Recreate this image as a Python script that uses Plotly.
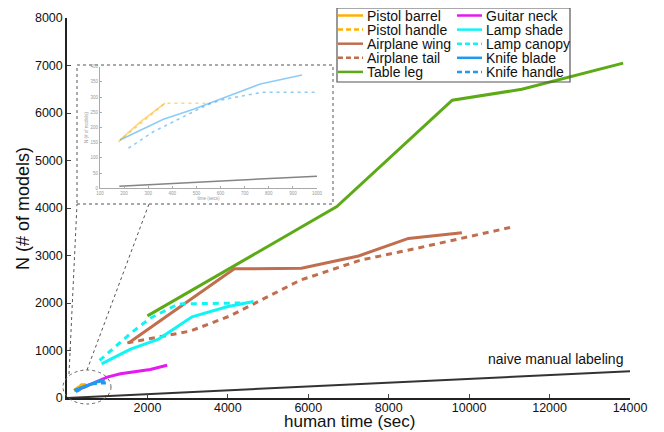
import plotly.graph_objects as go

# ---------------- data ----------------
pistol_barrel_x = [183, 270, 370]
pistol_barrel_y = [159, 220, 280]
pistol_handle_x = [176, 370, 557]
pistol_handle_y = [153, 280, 280]
airplane_wing_x = [1530, 4160, 5830, 7250, 8490, 9820]
airplane_wing_y = [1160, 2720, 2730, 2990, 3360, 3480]
airplane_tail_x = [1500, 3070, 4060, 5800, 7290, 8530, 11070]
airplane_tail_y = [1160, 1410, 1730, 2480, 2900, 3120, 3600]
table_leg_x = [2000, 6710, 9580, 11310, 13830]
table_leg_y = [1730, 4030, 6270, 6500, 7050]
guitar_neck_x = [210, 1000, 1330, 2070, 2490]
guitar_neck_y = [150, 440, 510, 600, 690]
lamp_shade_x = [860, 1580, 2280, 3110, 3980, 4640]
lamp_shade_y = [720, 1030, 1240, 1710, 1920, 2030]
lamp_canopy_x = [810, 1580, 2070, 2770, 4310]
lamp_canopy_y = [790, 1360, 1680, 1980, 2000]
knife_blade_x = [183, 363, 488, 599, 765, 938]
knife_blade_y = [159, 227, 260, 293, 343, 373]
knife_handle_x = [218, 321, 432, 543, 599, 772, 1000]
knife_handle_y = [132, 186, 230, 274, 290, 316, 316]
naive_x = [0, 14000]
naive_y = [0, 565]
inset_naive_x = [180, 1000]
inset_naive_y = [7, 40]

x_ticks = [2000, 4000, 6000, 8000, 10000, 12000, 14000]
x_tick_labels = ["2000", "4000", "6000", "8000", "10000", "12000", "14000"]
y_ticks = [0, 1000, 2000, 3000, 4000, 5000, 6000, 7000, 8000]
y_tick_labels = ["0", "1000", "2000", "3000", "4000", "5000", "6000", "7000", "8000"]
inset_x_ticks = [100, 200, 300, 400, 500, 600, 700, 800, 900, 1000]
inset_y_ticks = [0, 50, 100, 150, 200, 250, 300, 350, 400]

ORANGE = "#FFB000"
BROWN = "#C06E4E"
GREEN = "#5DAA17"
MAGENTA = "#E41AEF"
CYAN = "#10F4F4"
BLUE = "#1E9BF0"

# (name, x, y, colour, dash, legend column, legend row)
series = [
    ("Pistol barrel", pistol_barrel_x, pistol_barrel_y, ORANGE, "solid", 0, 0),
    ("Pistol handle", pistol_handle_x, pistol_handle_y, ORANGE, "5px,4px", 0, 1),
    ("Airplane wing", airplane_wing_x, airplane_wing_y, BROWN, "solid", 0, 2),
    ("Airplane tail", airplane_tail_x, airplane_tail_y, BROWN, "6px,5px", 0, 3),
    ("Table leg", table_leg_x, table_leg_y, GREEN, "solid", 0, 4),
    ("Guitar neck", guitar_neck_x, guitar_neck_y, MAGENTA, "solid", 1, 0),
    ("Lamp shade", lamp_shade_x, lamp_shade_y, CYAN, "solid", 1, 1),
    ("Lamp canopy", lamp_canopy_x, lamp_canopy_y, CYAN, "6px,5px", 1, 2),
    ("Knife blade", knife_blade_x, knife_blade_y, BLUE, "solid", 1, 3),
    ("Knife handle", knife_handle_x, knife_handle_y, BLUE, "5px,4px", 1, 4),
]

FONT = "Liberation Sans, Arial, sans-serif"

# the page body has an 8px default margin, so the figure is shrunk by 8px
OFF = 8
W, H = 664 - OFF, 432 - OFF
L, R, T, B = 67 - OFF, 34, 18 - OFF, 34
pw, ph = W - L - R, H - T - B


def px(xp):
    """reference-window pixel x -> paper fraction"""
    return (xp - OFF - L) / pw


def py(yp):
    """reference-window pixel y -> paper fraction"""
    return (H - B - (yp - OFF)) / ph


fig = go.Figure()

# naive baseline (main)
fig.add_trace(go.Scatter(x=naive_x, y=naive_y, mode="lines",
                         line=dict(color="#333333", width=2),
                         showlegend=False, hoverinfo="skip"))

for name, xs, ys, col, dash, c, r in series:
    fig.add_trace(go.Scatter(x=xs, y=ys, mode="lines", name=name,
                             line=dict(color=col, width=3, dash=dash),
                             showlegend=False))

# inset (faded zoom of the origin region)
fig.add_trace(go.Scatter(x=inset_naive_x, y=inset_naive_y, mode="lines",
                         line=dict(color="#333333", width=1.5),
                         opacity=0.6, xaxis="x2", yaxis="y2",
                         showlegend=False, hoverinfo="skip"))
for name, xs, ys, col, dash, c, r in series:
    if max(xs) <= 1000:
        fig.add_trace(go.Scatter(x=xs, y=ys, mode="lines", name=name,
                                 line=dict(color=col, width=1.6,
                                           dash=("solid" if dash == "solid" else "3px,4px")),
                                 opacity=0.5, xaxis="x2", yaxis="y2",
                                 showlegend=False, hoverinfo="skip"))

shapes = [
    # inset frame
    dict(type="rect", xref="paper", yref="paper",
         x0=px(77), x1=px(333), y0=py(204), y1=py(65),
         line=dict(color="#555555", width=1, dash="dot"),
         fillcolor="rgba(255,255,255,0)", layer="below"),
    # ellipse around origin
    dict(type="circle", xref="paper", yref="paper",
         x0=px(63), x1=px(111), y0=py(404), y1=py(370),
         line=dict(color="#666666", width=1, dash="dot")),
    # connector lines
    dict(type="line", xref="paper", yref="paper",
         x0=px(69), y0=py(374), x1=px(77), y1=py(204),
         line=dict(color="#555555", width=1, dash="dot")),
    dict(type="line", xref="paper", yref="paper",
         x0=px(87), y0=py(370), x1=px(149), y1=py(204),
         line=dict(color="#555555", width=1, dash="dot")),
    # legend frame
    dict(type="rect", xref="paper", yref="paper",
         x0=px(337), x1=px(570), y0=py(82), y1=py(8),
         line=dict(color="#555555", width=1.2),
         fillcolor="rgba(255,255,255,0)"),
]

annotations = [
    dict(text="naive manual labeling", x=13880, y=830, xref="x", yref="y",
         xanchor="right", yanchor="middle", showarrow=False,
         font=dict(size=14, color="#111111")),
    dict(text="human time (sec)", x=px(349), y=py(421), xref="paper", yref="paper",
         xanchor="center", yanchor="middle", showarrow=False,
         font=dict(size=17, color="#111111")),
    dict(text="N (# of models)", x=px(23), y=py(208), xref="paper", yref="paper",
         xanchor="center", yanchor="middle", showarrow=False, textangle=-90,
         font=dict(size=18, color="#111111")),
]

# manual two-column legend
col_line_x = [(338, 363), (457, 482)]
col_text_x = [365, 484]
for name, xs, ys, col, dash, c, r in series:
    yy = 15.5 + 14.1 * r
    shapes.append(dict(type="line", xref="paper", yref="paper",
                       x0=px(col_line_x[c][0]), x1=px(col_line_x[c][1]),
                       y0=py(yy), y1=py(yy),
                       line=dict(color=col, width=2.5,
                                 dash=("solid" if dash == "solid" else "5px,3px"))))
    annotations.append(dict(text=name, x=px(col_text_x[c]), y=py(yy + 0.5),
                            xref="paper", yref="paper", xanchor="left",
                            yanchor="middle", showarrow=False,
                            font=dict(size=14, color="#111111")))

fig.update_layout(
    width=W, height=H,
    margin=dict(l=L, r=R, t=T, b=B, autoexpand=False),
    paper_bgcolor="white", plot_bgcolor="white",
    font=dict(family=FONT, size=12, color="#111111"),
    xaxis=dict(range=[0, 14000], tickvals=x_ticks, ticktext=x_tick_labels,
               ticks="inside", ticklen=4, automargin=False, ticklabelstandoff=-3,
               showgrid=False, zeroline=False, showline=True, linecolor="#222222",
               linewidth=1.5, tickfont=dict(size=12.5)),
    yaxis=dict(range=[0, 8000], tickvals=y_ticks, ticktext=y_tick_labels,
               ticks="inside", ticklen=4, automargin=False,
               showgrid=False, zeroline=False, showline=True, linecolor="#222222",
               linewidth=1.5, tickfont=dict(size=12.5)),
    xaxis2=dict(domain=[px(100), px(317)], anchor="y2", range=[100, 1000],
                tickvals=inset_x_ticks, showgrid=False, zeroline=False,
                showline=True, linecolor="#aaaaaa", linewidth=1, ticks="inside",
                ticklen=2, tickcolor="#aaaaaa", automargin=False,
                tickfont=dict(size=4.5, color="#999999"),
                title=dict(text="time (secs)", font=dict(size=4.5, color="#999999"), standoff=1)),
    yaxis2=dict(domain=[py(188.3), py(66.7)], anchor="x2", range=[0, 400],
                tickvals=inset_y_ticks, showgrid=False, zeroline=False,
                showline=True, linecolor="#aaaaaa", linewidth=1, ticks="inside",
                ticklen=2, tickcolor="#aaaaaa", automargin=False,
                tickfont=dict(size=4.5, color="#999999"),
                title=dict(text="N (# of models)", font=dict(size=4.5, color="#999999"), standoff=2)),
    shapes=shapes,
    annotations=annotations,
    showlegend=False,
)

fig.write_html("out.html")
